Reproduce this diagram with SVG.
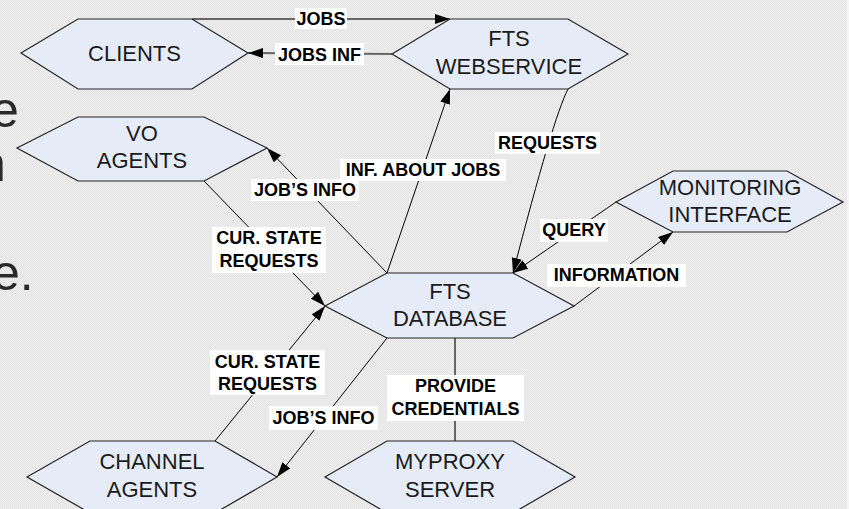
<svg xmlns="http://www.w3.org/2000/svg" width="849" height="509" viewBox="0 0 849 509">
<defs>
<pattern id="dither" width="2" height="2" patternUnits="userSpaceOnUse">
<rect width="2" height="2" fill="#ececec"/>
<rect width="1" height="1" fill="#e6e6e6"/>
<rect x="1" y="1" width="1" height="1" fill="#e6e6e6"/>
</pattern>
<marker id="arr" markerUnits="userSpaceOnUse" markerWidth="16" markerHeight="12" refX="15" refY="5" orient="auto">
<path d="M0,0 L15,5 L0,10 z" fill="#000"/>
</marker>
</defs>
<style>
.hex{fill:#e6ecf7;stroke:#222;stroke-width:1.2}
.nt{font-family:"Liberation Sans",Arial,sans-serif;font-size:22px;fill:#1a1a1a;text-anchor:middle}
.ln{fill:none;stroke:#000;stroke-width:1}
.gl{fill:none;stroke:#666;stroke-width:2}
.lb{fill:#fff}
.lt{font-family:"Liberation Sans",Arial,sans-serif;font-size:18px;font-weight:bold;fill:#000;text-anchor:middle}
.bg{font-family:"Liberation Sans",Arial,sans-serif;font-size:50px;fill:#2a2a2a}
</style>
<rect width="849" height="509" fill="url(#dither)"/>
<rect x="847" width="2" height="509" fill="#f5f5f5"/>
<text class="bg" x="-9" y="127">e</text>
<text class="bg" x="-22" y="181">n</text>
<text class="bg" x="-8" y="290">e.</text>

<g id="connectors">
<path class="gl" d="M192,19 L450,19" marker-end="url(#arr)"/>
<path class="gl" d="M392,54 L248,53" marker-end="url(#arr)"/>
<path class="ln" d="M387,273 L450,89" marker-end="url(#arr)"/>
<path class="ln" d="M568,89 Q553,118 513,273" marker-end="url(#arr)"/>
<path class="ln" d="M387,273 L267,148" marker-end="url(#arr)"/>
<path class="ln" d="M204,181 L325,306" marker-end="url(#arr)"/>
<path class="ln" d="M215,441 L325,306" marker-end="url(#arr)"/>
<path class="ln" d="M387,338 L277,477" marker-end="url(#arr)"/>
<path class="gl" d="M455,338 L455,441"/>
<path class="ln" d="M616,202 L513,273" marker-end="url(#arr)"/>
<path class="ln" d="M574,306 L673,232" marker-end="url(#arr)"/>

<rect class="lb" x="295" y="8" width="52" height="21"/>
<text class="lt" x="321" y="25">JOBS</text>
<rect class="lb" x="275" y="43" width="89" height="22"/>
<text class="lt" x="319.5" y="60.5">JOBS INF</text>
<rect class="lb" x="340" y="159" width="166" height="22"/>
<text class="lt" x="423" y="176">INF. ABOUT JOBS</text>
<rect class="lb" x="495" y="132" width="105" height="22"/>
<text class="lt" x="547.5" y="149">REQUESTS</text>
<rect class="lb" x="251" y="179" width="108" height="22"/>
<text class="lt" x="305" y="196">JOB’S INFO</text>
<rect class="lb" x="212" y="227" width="114" height="46"/>
<text class="lt" x="269" y="244">CUR. STATE</text>
<text class="lt" x="269" y="266.5">REQUESTS</text>
<rect class="lb" x="210" y="350" width="115" height="45"/>
<text class="lt" x="267.5" y="368">CUR. STATE</text>
<text class="lt" x="267.5" y="390">REQUESTS</text>
<rect class="lb" x="269" y="406" width="109" height="24"/>
<text class="lt" x="323.5" y="423.5">JOB’S INFO</text>
<rect class="lb" x="387" y="375" width="137" height="46"/>
<text class="lt" x="455.5" y="391.5">PROVIDE</text>
<text class="lt" x="455.5" y="415">CREDENTIALS</text>
<rect class="lb" x="540" y="219" width="68" height="23"/>
<text class="lt" x="574" y="235.5">QUERY</text>
<rect class="lb" x="547" y="264" width="139" height="23"/>
<text class="lt" x="616.5" y="280.5">INFORMATION</text>
</g>

<g id="clients">
<polygon class="hex" points="21,53 78,19 192,19 248,53 192,89 78,89"/>
<text class="nt" x="134.5" y="61">CLIENTS</text>
</g>
<g id="fts-webservice">
<polygon class="hex" points="392,54 450,19 568,19 628,54 568,89 450,89"/>
<text class="nt" x="509" y="46">FTS</text>
<text class="nt" x="509" y="74">WEBSERVICE</text>
</g>
<g id="vo-agents">
<polygon class="hex" points="17,148 78,117 204,117 267,148 204,181 78,181"/>
<text class="nt" x="142" y="141">VO</text>
<text class="nt" x="142" y="168">AGENTS</text>
</g>
<g id="fts-database">
<polygon class="hex" points="325,306 387,273 513,273 574,306 513,338 387,338"/>
<text class="nt" x="450" y="299">FTS</text>
<text class="nt" x="450" y="326">DATABASE</text>
</g>
<g id="monitoring-interface">
<polygon class="hex" points="616,202 673,171 787,171 843,202 787,232 673,232"/>
<text class="nt" x="730" y="195">MONITORING</text>
<text class="nt" x="730" y="222">INTERFACE</text>
</g>
<g id="channel-agents">
<polygon class="hex" points="27,477 90,441 215,441 277,477 215,513 90,513"/>
<text class="nt" x="152" y="469">CHANNEL</text>
<text class="nt" x="152" y="497">AGENTS</text>
</g>
<g id="myproxy-server">
<polygon class="hex" points="325,477 387,441 513,441 575,477 513,513 387,513"/>
<text class="nt" x="450" y="469">MYPROXY</text>
<text class="nt" x="450" y="497">SERVER</text>
</g>
</svg>
